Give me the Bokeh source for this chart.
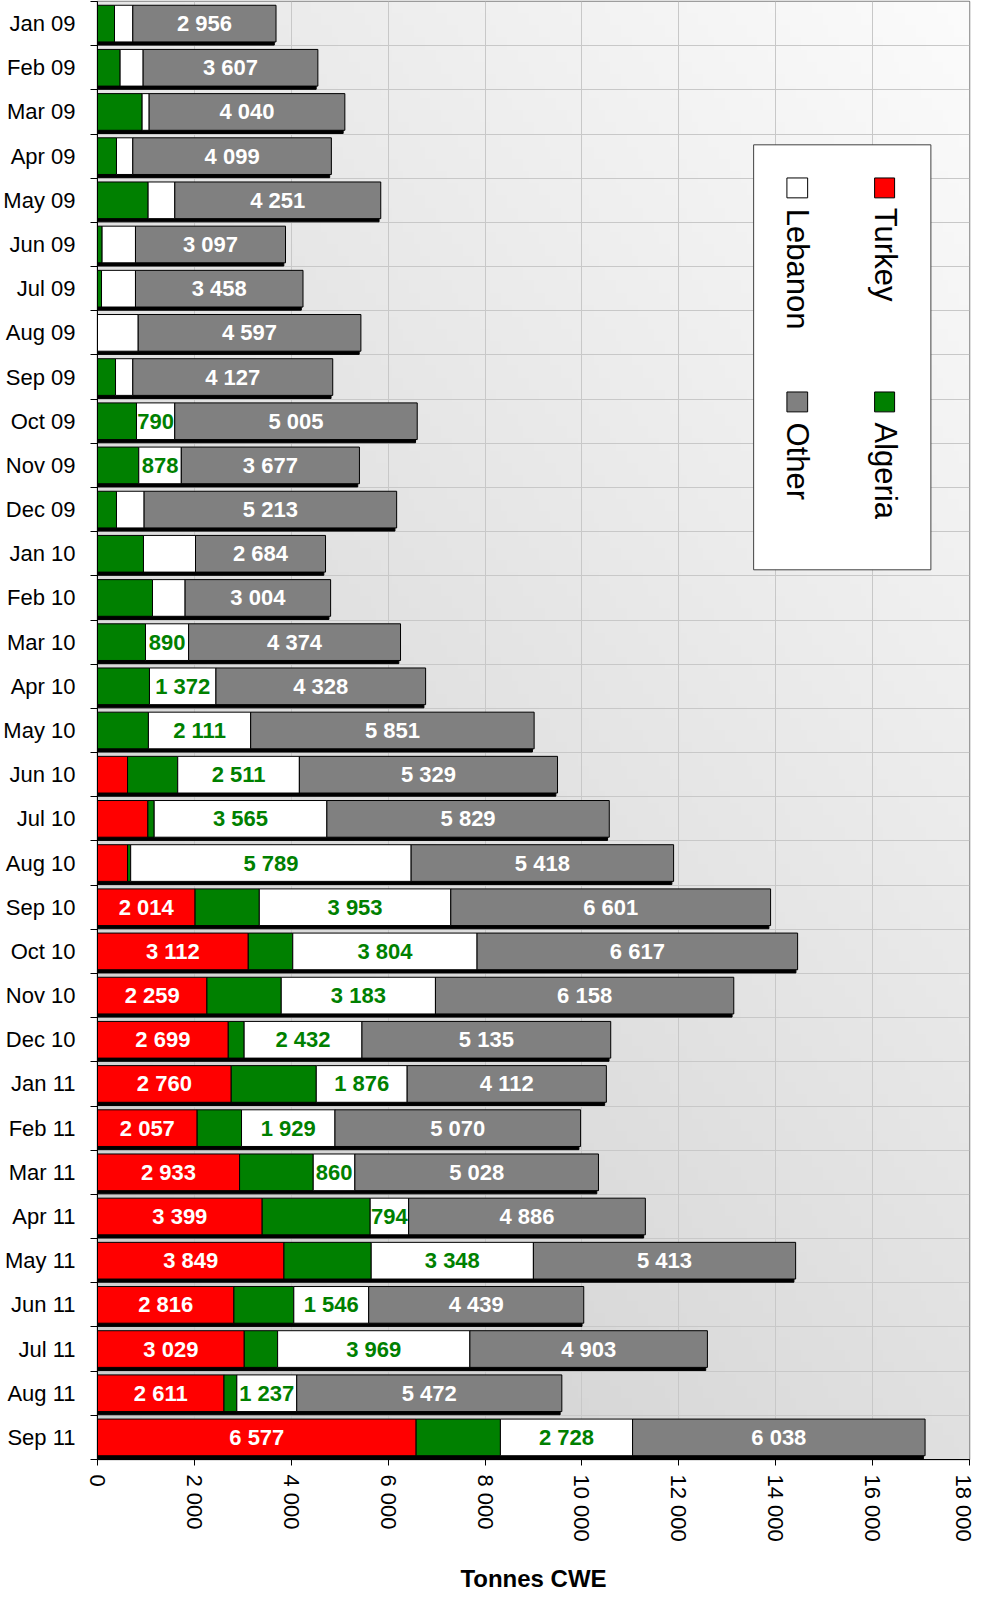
import math
import numpy as np
from bokeh.plotting import figure
from bokeh.models import ColumnDataSource, FixedTicker, Range1d
from bokeh.transform import dodge
from bokeh.core.properties import value
from bokeh.embed import file_html
from bokeh.resources import INLINE

# ---------------- data ----------------
months = ["Jan 09", "Feb 09", "Mar 09", "Apr 09", "May 09", "Jun 09", "Jul 09", "Aug 09",
          "Sep 09", "Oct 09", "Nov 09", "Dec 09", "Jan 10", "Feb 10", "Mar 10", "Apr 10",
          "May 10", "Jun 10", "Jul 10", "Aug 10", "Sep 10", "Oct 10", "Nov 10", "Dec 10",
          "Jan 11", "Feb 11", "Mar 11", "Apr 11", "May 11", "Jun 11", "Jul 11", "Aug 11",
          "Sep 11"]

turkey = [0, 0, 0, 0, 0, 0, 0, 0, 0, 0, 0, 0, 0, 0, 0, 0, 0,
          620, 1040, 620, 2014, 3112, 2259, 2699, 2760, 2057, 2933, 3399, 3849,
          2816, 3029, 2611, 6577]
algeria = [351, 467, 921, 392, 1045, 95, 83, 0, 372, 805, 852, 392, 949, 1135, 991,
           1073, 1051, 1036, 130, 65, 1326, 919, 1534, 328, 1756, 916, 1520, 2230,
           1801, 1236, 689, 265, 1740]
lebanon = [378, 475, 145, 337, 551, 689, 701, 840, 357, 790, 878, 570, 1074, 673, 890,
           1372, 2111, 2511, 3565, 5789, 3953, 3804, 3183, 2432, 1876, 1929, 860, 794,
           3348, 1546, 3969, 1237, 2728]
other = [2956, 3607, 4040, 4099, 4251, 3097, 3458, 4597, 4127, 5005, 3677, 5213, 2684,
         3004, 4374, 4328, 5851, 5329, 5829, 5418, 6601, 6617, 6158, 5135, 4112, 5070,
         5028, 4886, 5413, 4439, 4903, 5472, 6038]

# which segment values carry a printed label in the original
turkey_labelled = [False] * 20 + [True] * 13
lebanon_labelled = [False] * 9 + [True, True, False, False, False] + [True] * 19

series_names = ["Turkey", "Algeria", "Lebanon", "Other"]
series_colors = ["#ff0000", "#008000", "#ffffff", "#808080"]

x_ticks = [0, 2000, 4000, 6000, 8000, 10000, 12000, 14000, 16000, 18000]
x_tick_labels = ["0", "2 000", "4 000", "6 000", "8 000", "10 000", "12 000",
                 "14 000", "16 000", "18 000"]
x_title = "Tonnes CWE"

# ---------------- derived ----------------
n = len(months)
ys = [n - i - 0.5 for i in range(n)]
totals = [t + a + l + o for t, a, l, o in zip(turkey, algeria, lebanon, other)]


def fmt(v):
    return f"{v:,}".replace(",", " ")


src = ColumnDataSource(dict(
    y=ys, month=months, turkey=turkey, algeria=algeria, lebanon=lebanon, other=other,
    shadow_right=[t - 35 for t in totals],
))

FONT = value("Liberation Sans")
BAR_H = 0.83

p = figure(frame_width=872, frame_height=1458,
           x_range=Range1d(0, 18000), y_range=Range1d(0, n),
           output_backend="svg", toolbar_location=None,
           min_border_left=88, min_border_right=6, min_border_top=1, min_border_bottom=1,
           background_fill_color="white", border_fill_color="white")
p.outline_line_color = "#808080"
p.outline_line_width = 1.5

# background gradient (light at top-right, darker towards bottom-left)
H, W = 120, 160
img = np.empty((H, W), dtype=np.uint32)
view = img.view(dtype=np.uint8).reshape((H, W, 4))
for r in range(H):
    fy = 1.0 - (r + 0.5) / H
    for c in range(W):
        fx = (c + 0.5) / W
        px_x = 95.5 + 872 * fx
        px_y = 5 + 1465 * fy
        v = 251 - 0.019 * (px_y - 5) - 0.024 * (950 - px_x)
        v = int(max(0, min(255, round(v))))
        view[r, c, 0] = v
        view[r, c, 1] = v
        view[r, c, 2] = v
        view[r, c, 3] = 255
p.image_rgba(image=[img], x=0, y=0, dw=18000, dh=n, level="image")

# shadows
p.hbar(y=dodge("y", -0.072), left=0, right="shadow_right", height=BAR_H,
       fill_color="black", line_color="black", source=src)

# stacked bars
p.hbar_stack(["turkey", "algeria", "lebanon", "other"], y="y", height=BAR_H,
             color=series_colors, line_color="black", line_width=1, source=src)

# value labels
lx, ly, lt, lc = [], [], [], []
for i in range(n):
    if turkey_labelled[i]:
        lx.append(turkey[i] / 2); ly.append(ys[i]); lt.append(fmt(turkey[i])); lc.append("white")
    base = turkey[i] + algeria[i]
    if lebanon_labelled[i]:
        lx.append(base + lebanon[i] / 2); ly.append(ys[i]); lt.append(fmt(lebanon[i])); lc.append("#008000")
    base += lebanon[i]
    lx.append(base + other[i] / 2); ly.append(ys[i]); lt.append(fmt(other[i])); lc.append("white")
lab_src = ColumnDataSource(dict(x=lx, y=ly, text=lt, color=lc))
p.text(x="x", y="y", text="text", text_color="color", source=lab_src,
       text_font=FONT, text_font_style="bold", text_font_size="22px",
       text_align="center", text_baseline="middle")

# legend (drawn manually, rotated text)
p.quad(left=[13544], right=[17203], top=[29.756], bottom=[20.137],
       fill_color="white", line_color="#404040", line_width=1)
sw_left = [16041, 16041, 14231, 14231]
sw_right = [16454, 16454, 14659, 14659]
sw_top = [29.006, 24.162, 29.006, 24.162]
order = [0, 1, 2, 3]
p.quad(left=sw_left, right=sw_right, top=sw_top, bottom=[t - 0.45 for t in sw_top],
       fill_color=[series_colors[k] for k in order], line_color="black", line_width=1)
p.text(x=[16265, 16265, 14450, 14450], y=[28.33, 23.47, 28.31, 23.47],
       text=[series_names[k] for k in order], angle=-math.pi / 2,
       text_font=FONT, text_font_size="31px", text_color="black",
       text_align="left", text_baseline="alphabetic")

# axes
bounds = list(range(0, n + 1))
yt = FixedTicker(ticks=ys, minor_ticks=bounds)
p.yaxis.ticker = yt
p.ygrid.ticker = yt
p.yaxis.major_label_overrides = {y: m for y, m in zip(ys, months)}
p.yaxis.major_tick_line_color = None
p.yaxis.major_tick_out = 0
p.yaxis.major_tick_in = 0
p.yaxis.minor_tick_out = 7
p.yaxis.minor_tick_in = 0
p.yaxis.minor_tick_line_color = "black"
p.yaxis.axis_line_color = "black"
p.yaxis.major_label_standoff = 15
p.yaxis.major_label_text_font = "Liberation Sans"
p.yaxis.major_label_text_font_size = "22px"
p.yaxis.major_label_text_color = "black"
p.ygrid.grid_line_color = None
p.ygrid.minor_grid_line_color = "#c8c8c8"
p.ygrid.minor_grid_line_width = 1

xt = FixedTicker(ticks=x_ticks, minor_ticks=[])
p.xaxis.ticker = xt
p.xgrid.ticker = xt
p.xaxis.major_label_overrides = {t: s for t, s in zip(x_ticks, x_tick_labels)}
p.xaxis.major_label_orientation = -math.pi / 2
p.xaxis.major_tick_out = 6
p.xaxis.major_tick_in = 0
p.xaxis.minor_tick_line_color = None
p.xaxis.axis_line_color = "black"
p.xaxis.major_tick_line_color = "black"
p.xaxis.major_label_standoff = 9
p.xaxis.major_label_text_font = "Liberation Sans"
p.xaxis.major_label_text_font_size = "22px"
p.xaxis.major_label_text_color = "black"
p.xaxis.axis_label = x_title
p.xaxis.axis_label_text_font = "Liberation Sans"
p.xaxis.axis_label_text_font_style = "bold"
p.xaxis.axis_label_text_font_size = "24px"
p.xaxis.axis_label_text_color = "black"
p.xaxis.axis_label_standoff = 20
p.xgrid.grid_line_color = "#c8c8c8"
p.xgrid.grid_line_width = 1

open("out.html", "w").write(file_html(p, INLINE))
